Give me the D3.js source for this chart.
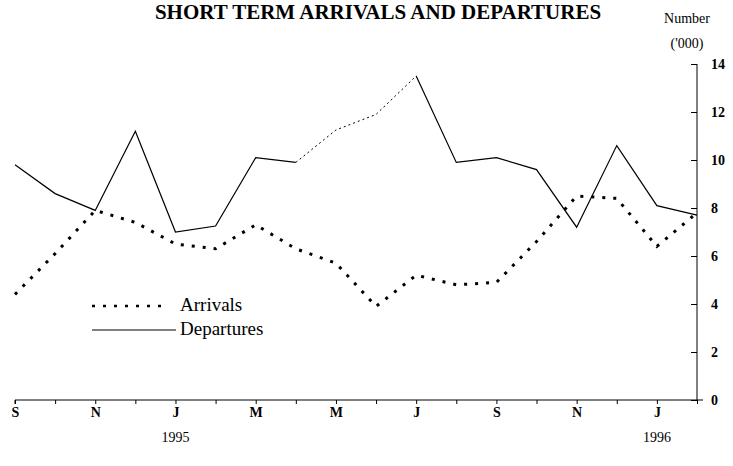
<!DOCTYPE html>
<html>
<head>
  <meta charset="UTF-8">
  <title>Short term arrivals and departures</title>
  <script src="https://d3js.org/d3.v7.min.js"></script>
  <style>
    body { margin: 0; background: #fff; }
    text { font-family: "Liberation Serif", "DejaVu Serif", serif; fill: #000; }
    .axis path, .axis line { stroke: #000; }
  </style>
</head>
<body>

<div class="chart"></div>

<script>

  // monthly, Sep 1994 .. Feb 1996 ('000)
  var months = ['S', 'O', 'N', 'D', 'J', 'F', 'M', 'A', 'M', 'J', 'J', 'A', 'S', 'O', 'N', 'D', 'J', 'F'];
  var arrivals = [4.4, 6.1, 7.9, 7.4, 6.5, 6.3, 7.3, 6.3, 5.7, 3.9, 5.2, 4.8, 4.9, 6.6, 8.5, 8.4, 6.4, 7.8];
  var departures = [9.8, 8.6, 7.9, 11.2, 7.0, 7.25, 10.1, 9.9, 11.25, 11.9, 13.5, 9.9, 10.1, 9.6, 7.2, 10.6, 8.1, 7.7];
  var yTicks = [0, 2, 4, 6, 8, 10, 12, 14];
  var yearLabels = [{ i: 4, text: '1995' }, { i: 16, text: '1996' }];

  var width = 733, height = 466;

  var svg = d3.select('.chart')
    .append('svg')
      .attr('width', width)
      .attr('height', height);

  var x = d3.scaleLinear().domain([0, months.length - 1]).range([15, 697]);
  var y = d3.scaleLinear().domain([0, 14]).range([400, 64]);

  // title (sits right at the top edge)
  svg.append('text')
    .attr('x', 378).attr('y', 19)
    .attr('text-anchor', 'middle')
    .style('font-size', '21px')
    .style('font-weight', 'bold')
    .text('SHORT TERM ARRIVALS AND DEPARTURES');

  svg.append('text')
    .attr('x', 687).attr('y', 23)
    .attr('text-anchor', 'middle')
    .style('font-size', '14px')
    .text('Number');
  svg.append('text')
    .attr('x', 687).attr('y', 48)
    .attr('text-anchor', 'middle')
    .style('font-size', '14px')
    .text("('000)");

  // Y axis on the right, ticks pointing inwards
  var yAxis = d3.axisRight(y)
    .tickValues(yTicks)
    .tickSize(-6)
    .tickPadding(14);
  var gy = svg.append('g')
    .attr('class', 'axis')
    .attr('transform', 'translate(697,0)')
    .call(yAxis);
  gy.select('.domain').attr('d', 'M0,' + y(14) + 'V' + y(0));
  gy.selectAll('text')
    .style('font-size', '14px')
    .style('font-weight', 'bold');
  gy.append('line')
    .attr('x1', 0).attr('x2', 6)
    .attr('y1', y(0)).attr('y2', y(0))
    .attr('stroke', '#000');

  // X axis
  var xAxis = d3.axisBottom(x)
    .tickValues(d3.range(months.length))
    .tickSize(4)
    .tickPadding(3)
    .tickFormat((d, i) => i % 2 === 0 ? months[i] : '');
  var gx = svg.append('g')
    .attr('class', 'axis')
    .attr('transform', 'translate(0,' + y(0) + ')')
    .call(xAxis);
  gx.select('.domain').attr('d', 'M' + x(0) + ',4V0H' + x(months.length - 1));
  gx.selectAll('text')
    .style('font-size', '14px')
    .style('font-weight', 'bold');

  svg.selectAll('.year')
    .data(yearLabels)
    .enter()
    .append('text')
      .attr('class', 'year')
      .attr('x', d => x(d.i))
      .attr('y', 442)
      .attr('text-anchor', 'middle')
      .style('font-size', '14px')
      .text(d => d.text);

  var line = d3.line()
    .x(d => x(d.i))
    .y(d => y(d.v));

  var dep = departures.map((v, i) => ({ i: i, v: v }));

  // departures: solid, with a faint dotted stretch Apr-Jul 1995 as in the print
  svg.append('path')
    .datum(dep.slice(0, 8))
    .attr('d', line)
    .attr('fill', 'none')
    .attr('stroke', '#000')
    .attr('stroke-width', 1.2);
  svg.append('path')
    .datum(dep.slice(7, 11))
    .attr('d', line)
    .attr('fill', 'none')
    .attr('stroke', '#000')
    .attr('stroke-width', 1)
    .attr('stroke-dasharray', '2,3');
  svg.append('path')
    .datum(dep.slice(10))
    .attr('d', line)
    .attr('fill', 'none')
    .attr('stroke', '#000')
    .attr('stroke-width', 1.2);

  svg.append('path')
    .datum(arrivals.map((v, i) => ({ i: i, v: v })))
    .attr('d', line)
    .attr('fill', 'none')
    .attr('stroke', '#000')
    .attr('stroke-width', 3)
    .attr('stroke-dasharray', '3,8');

  // legend
  var legend = svg.append('g').attr('transform', 'translate(92,0)');
  legend.append('line')
    .attr('x1', 0).attr('x2', 76)
    .attr('y1', 306).attr('y2', 306)
    .attr('stroke', '#000')
    .attr('stroke-width', 2.5)
    .attr('stroke-dasharray', '3,8');
  legend.append('text')
    .attr('x', 88).attr('y', 311)
    .style('font-size', '19px')
    .text('Arrivals');
  legend.append('line')
    .attr('x1', 0).attr('x2', 84)
    .attr('y1', 330).attr('y2', 330)
    .attr('stroke', '#000')
    .attr('stroke-width', 1.2);
  legend.append('text')
    .attr('x', 88).attr('y', 335)
    .style('font-size', '19px')
    .text('Departures');

</script>

</body>
</html>
